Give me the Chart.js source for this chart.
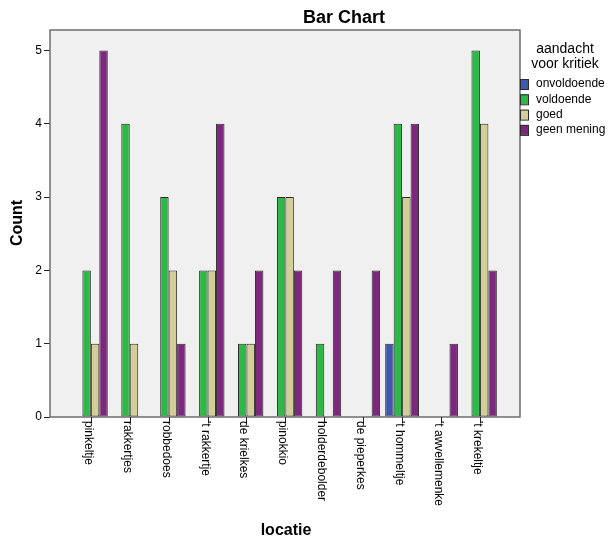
<!DOCTYPE html>
<html>
<head>
<meta charset="utf-8">
<script src="https://cdn.jsdelivr.net/npm/chart.js@4/dist/chart.umd.min.js"></script>
<style>
  html, body { margin: 0; padding: 0; background: #fff; }
  #wrap { width: 609px; height: 544px; }
</style>
</head>
<body>
<div id="wrap"><canvas id="chart" width="609" height="544"></canvas></div>
<script>
const locaties = ["pinkeltje", "rakkertjes", "robbedoes", "'t rakkertje", "de krielkes", "pinokkio",
    "holderdebolder", "de pieperkes", "'t hommeltje", "'t awvellemenke", "'t krekeltje"];
const onvoldoende = [0, 0, 0, 0, 0, 0, 0, 0, 1, 0, 0];
const voldoende = [2, 4, 3, 2, 1, 3, 1, 0, 4, 0, 5];
const goed = [1, 1, 2, 2, 1, 3, 0, 0, 3, 0, 4];
const geenMening = [5, 0, 1, 4, 2, 2, 2, 2, 4, 1, 2];
const seriesNames = ["onvoldoende", "voldoende", "goed", "geen mening"];
const seriesColors = ["#3E58AC", "#2EB848", "#D3CE97", "#7C287D"];

Chart.defaults.font.family = "'Liberation Sans', Arial, sans-serif";
Chart.defaults.color = "#000";

const toPoints = (vals) => vals.map((v, i) => ({ x: i, y: v }));

const datasets = [onvoldoende, voldoende, goed, geenMening].map((vals, k) => ({
    label: seriesNames[k],
    data: toPoints(vals),
    backgroundColor: seriesColors[k],
    borderColor: "#2b2b2b",
    borderWidth: 1,
    borderSkipped: false,
    categoryPercentage: 0.87,
    barPercentage: 1,
}));

// gray plot box, category ticks + rotated labels, titles, legend
const decor = {
    id: "decor",
    beforeDraw(chart) {
        const { ctx, chartArea: a } = chart;
        ctx.save();
        ctx.fillStyle = "#F0F0F0";
        ctx.fillRect(a.left, a.top, a.right - a.left, a.bottom - a.top);
        ctx.restore();
    },
    afterDatasetsDraw(chart) {
        const { ctx, chartArea: a, scales } = chart;
        const xs = scales.x;
        ctx.save();
        ctx.strokeStyle = "#6e6e6e";
        ctx.lineWidth = 1.5;
        ctx.strokeRect(a.left, a.top, a.right - a.left, a.bottom - a.top);

        // x ticks and labels
        ctx.strokeStyle = "#222";
        ctx.lineWidth = 1;
        ctx.fillStyle = "#000";
        ctx.font = "12px 'Liberation Sans', Arial, sans-serif";
        locaties.forEach((name, i) => {
            const px = Math.round(xs.getPixelForValue(i)) + 0.5;
            ctx.beginPath();
            ctx.moveTo(px, a.bottom);
            ctx.lineTo(px, a.bottom + 6);
            ctx.stroke();
            ctx.save();
            ctx.translate(px - 3, a.bottom + 4);
            ctx.rotate(Math.PI / 2);
            ctx.textAlign = "left";
            ctx.textBaseline = "middle";
            ctx.fillText(name, 0, 0);
            ctx.restore();
        });

        // title
        ctx.font = "bold 18px 'Liberation Sans', Arial, sans-serif";
        ctx.textAlign = "center";
        ctx.textBaseline = "alphabetic";
        ctx.fillText("Bar Chart", 344, 23);

        // axis titles
        ctx.font = "bold 16px 'Liberation Sans', Arial, sans-serif";
        ctx.textBaseline = "middle";
        ctx.fillText("locatie", 286, 531);
        ctx.save();
        ctx.translate(18, 223);
        ctx.rotate(-Math.PI / 2);
        ctx.fillText("Count", 0, 0);
        ctx.restore();

        // legend
        ctx.font = "14px 'Liberation Sans', Arial, sans-serif";
        ctx.fillText("aandacht", 565, 49);
        ctx.fillText("voor kritiek", 565, 64);
        ctx.font = "12px 'Liberation Sans', Arial, sans-serif";
        ctx.textAlign = "left";
        seriesNames.forEach((name, k) => {
            const cy = 84 + k * 15.3;
            ctx.fillStyle = seriesColors[k];
            ctx.fillRect(520, cy - 5, 8, 10);
            ctx.strokeStyle = "#2b2b2b";
            ctx.strokeRect(520.5, cy - 4.5, 8, 10);
            ctx.fillStyle = "#000";
            ctx.fillText(name, 536, cy);
        });
        ctx.restore();
    },
};

new Chart(document.getElementById("chart"), {
    type: "bar",
    data: { datasets: datasets },
    options: {
        responsive: false,
        animation: false,
        layout: { padding: { left: 0, top: 30, right: 89, bottom: 127 } },
        plugins: { legend: { display: false }, tooltip: { enabled: false } },
        scales: {
            x: {
                type: "linear",
                display: false,
                offset: false,
                min: -1.05,
                max: 11.03,
                afterBuildTicks: (scale) => {
                    scale.ticks = locaties.map((_, i) => ({ value: i }));
                },
            },
            y: {
                min: 0,
                max: 5.28,
                afterFit: (scale) => { scale.width = 50; },
                border: { display: false },
                grid: { drawOnChartArea: false, tickLength: 6, color: "#222" },
                ticks: {
                    stepSize: 1,
                    includeBounds: false,
                    padding: 2,
                    font: { size: 12 },
                    color: "#000",
                },
            },
        },
    },
    plugins: [decor],
});
</script>
</body>
</html>
